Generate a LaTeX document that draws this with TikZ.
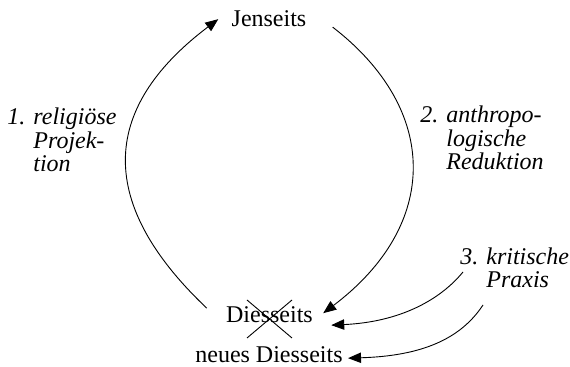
\documentclass[tikz,border=0pt]{standalone}
\usepackage{fontspec}
\setmainfont{Liberation Serif}
\usetikzlibrary{arrows.meta,positioning}

\begin{document}
\begin{tikzpicture}[x=0.5pt,y=-0.5pt,>={Triangle[length=6.5pt,width=5.2pt]},
 font=\fontsize{12}{11.25}\selectfont,
 word/.style={inner sep=0pt,anchor=base},
 note/.style={inner sep=0pt,anchor=base west,font=\fontsize{12}{11.25}\selectfont\itshape},
 arc/.style={line width=0.45pt,->}]
\useasboundingbox (0,0) rectangle (570,367);
\node[word] (jen) at (269,27) {Jenseits};
\node[word] (dies) at (269.5,323) {Diesseits};
\node[word] (neu) at (269,363) {neues Diesseits};
\node[note] (proj) at (7,125) {\begin{tabular}[t]{@{}l@{\hspace{4pt}}l@{}}1.&religiöse\\&Projek-\\&tion\end{tabular}};
\node[note] (red) at (420,123) {\begin{tabular}[t]{@{}l@{\hspace{4pt}}l@{}}2.&anthropo-\\&logische\\&Reduktion\end{tabular}};
\node[note] (prax) at (460,265) {\begin{tabular}[t]{@{}l@{\hspace{4pt}}l@{}}3.&kritische\\&Praxis\end{tabular}};
\coordinate (p1) at (463,272);
\coordinate (p2) at (483,305);
% the two big arcs
\draw[arc] ([xshift=-9.5pt,yshift=3.5pt]dies.west) .. controls (98,205) and (98,110) .. ([xshift=-6.5pt]jen.west);
\draw[arc] ([xshift=13pt,yshift=-4pt]jen.east) .. controls (440,110) and (440,225) .. ([xshift=5pt,yshift=1pt]dies.east);
% critical praxis
\draw[arc] (p1) .. controls (440,300) and (400,322) .. ([xshift=9pt,yshift=-5pt]dies.east);
\draw[arc] (p2) .. controls (460,340) and (420,356) .. ([xshift=2.5pt,yshift=-1.5pt]neu.east);
% crossed out
\draw[line width=0.45pt] (dies.base) ++(-22.5,-23) -- ++(45,38) ++(0,-38) -- ++(-45,38);
\end{tikzpicture}
\end{document}
